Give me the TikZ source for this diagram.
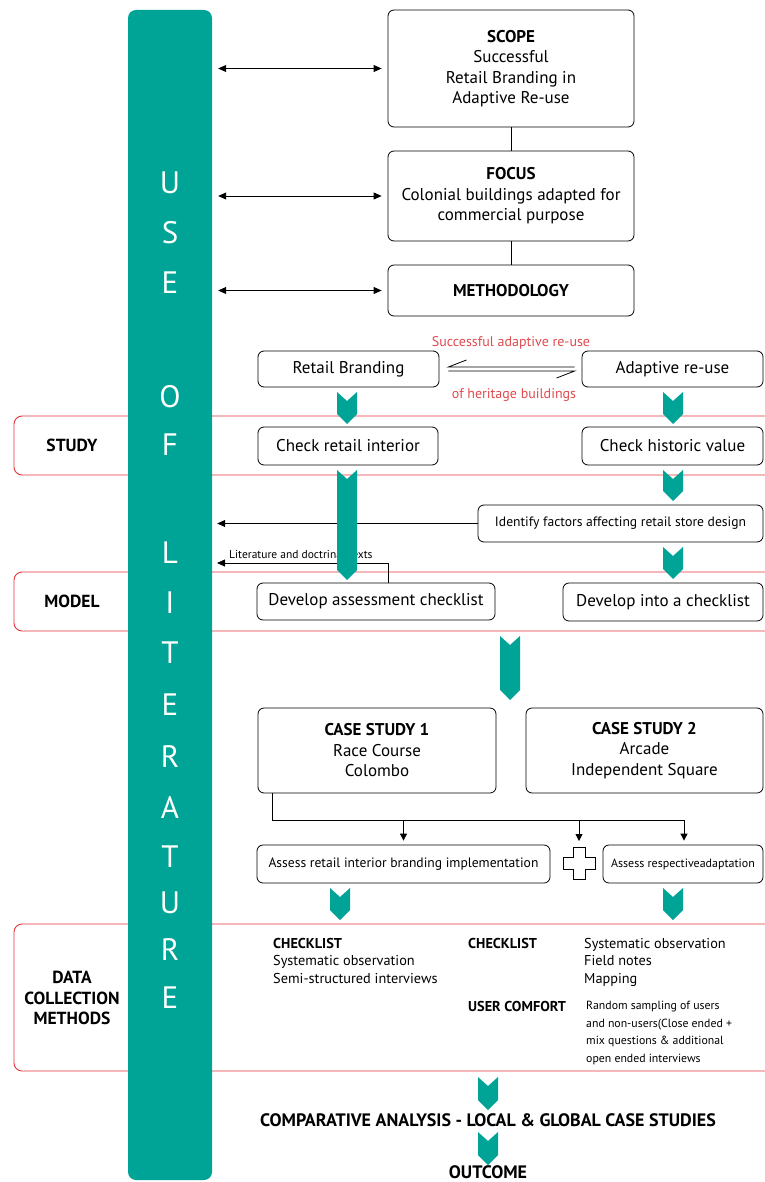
\documentclass[tikz,border=0pt]{standalone}
\usepackage{fontspec}
\setmainfont{PT Sans}
\usetikzlibrary{arrows.meta,positioning}
\definecolor{litteal}{HTML}{00A497}
\definecolor{bandred}{HTML}{E2343A}
\definecolor{notered}{HTML}{E04A4F}
% teal chevron: x, top, bottom
\newcommand{\chev}[3]{\fill[litteal] (#1-10,#2) -- (#1,#2+9) -- (#1+10,#2) -- (#1+10,#3-10) -- (#1,#3) -- (#1-10,#3-10) -- cycle;}
\begin{document}
\begin{tikzpicture}[x=1pt, y=-1pt,
	box/.style={draw, rounded corners=6pt, line width=0.8pt, align=center, inner sep=2pt,
		font=\fontsize{17}{20.5}\selectfont},
	smallbox/.style={box, font=\fontsize{13.6}{16}\selectfont},
	band/.style={draw=bandred, line width=0.9pt, rounded corners=8pt},
	bandlabel/.style={font=\bfseries\fontsize{17.5}{20.5}\selectfont, align=center},
	letter/.style={text=white, font=\fontsize{31}{31}\selectfont},
	redtext/.style={text=notered, font=\fontsize{14}{16}\selectfont},
	coltext/.style={anchor=north west, inner sep=0pt, align=left, font=\fontsize{14.3}{17.5}\selectfont},
	bigtext/.style={font=\bfseries\fontsize{18}{20}\selectfont},
	dbl/.style={{Triangle[width=7pt,length=8pt]}-{Triangle[width=7pt,length=8pt]}, line width=0.8pt},
	tolit/.style={-{Triangle[width=7pt,length=8pt]}, line width=0.8pt},
	down/.style={-{Triangle[width=7pt,length=7pt]}, line width=0.8pt},
	harp/.style={line width=0.8pt}]
	
	\useasboundingbox (0,0) rectangle (764,1182);
	
	% red bands
	\draw[band] (14,416) rectangle (790,475);
	\draw[band] (14,572) rectangle (790,631);
	\draw[band] (14,924) rectangle (790,1071);
	\node[bandlabel] (study) at (72,445) {STUDY};
	\node[bandlabel] (model) at (72,601) {MODEL};
	\node[bandlabel] (data) at (72,998) {DATA\\COLLECTION\\METHODS};
	
	% literature bar
	\node[fill=litteal, rounded corners=8pt, minimum width=84pt, minimum height=1170pt, inner sep=0pt] (bar) at (170,595) {};
	\foreach \l/\y in {U/183, S/233, E/283, O/397, F/445, L/553, I/603, T/653, E/705, R/757, A/807, T/857, U/903, R/950, E/998}
	\node[letter] (l\y) at (170,\y) {\l};
	
	% top boxes
	\node[box, minimum width=246pt, minimum height=117pt] (scope) at (511,68.5) {\textbf{SCOPE}\\Successful\\Retail Branding in\\Adaptive Re-use};
	\node[box, minimum width=246pt, minimum height=90pt] (focus) at (511,196) {\textbf{FOCUS}\\Colonial buildings adapted for\\commercial purpose};
	\node[box, minimum width=246pt, minimum height=51pt] (method) at (511,290.5) {\textbf{METHODOLOGY}};
	\draw[line width=0.8pt] (scope) -- (focus);
	\draw[line width=0.8pt] (focus) -- (method);
	\foreach \n in {scope, focus, method}
	\draw[dbl, shorten <=6pt, shorten >=6pt] (bar.east |- \n.west) -- (\n.west);
	
	% two themes
	\node[box, minimum width=181pt, minimum height=36pt] (rb) at (348.5,369) {Retail Branding};
	\node[box, minimum width=181pt, minimum height=36pt] (ar) at (672.5,369) {Adaptive re-use};
	\draw[harp] ([yshift=2pt, xshift=-7pt]ar.west) -- ([yshift=2pt, xshift=9pt]rb.east) -- ++(18,-7);
	\draw[harp] ([yshift=-2pt, xshift=9pt]rb.east) -- ([yshift=-2pt, xshift=-7pt]ar.west) -- ++(-18,7);
	\node[redtext] (sar) at (511,343) {Successful adaptive re-use};
	\node[redtext] (hb) at (514,395) {of heritage buildings};
	
	% study
	\node[box, minimum width=180pt, minimum height=38pt] (cri) at (348,446) {Check retail interior};
	\node[box, minimum width=181pt, minimum height=38pt] (chv) at (672.5,446) {Check historic value};
	\node[smallbox, minimum width=285pt, minimum height=37pt] (ifd) at (620.5,523.5) {Identify factors affecting retail store design};
	\draw[tolit, shorten >=5pt] (ifd.west) -- (ifd.west -| bar.east);
	
	% model
	\node[box, minimum width=238pt, minimum height=37pt] (dac) at (376,601.5) {Develop assessment checklist};
	\node[box, minimum width=200pt, minimum height=38pt] (dic) at (663,602) {Develop into a checklist};
	\coordinate (litend) at (217,563);
	\draw[tolit] ([xshift=12pt]dac.north) |- (litend);
	\node[anchor=south west, inner sep=0pt, font=\fontsize{11.5}{13}\selectfont] (lit) at (229,559) {Literature and doctrinal texts};
	
	% case studies
	\node[box, minimum width=238pt, minimum height=85pt] (cs1) at (377,750.5) {\textbf{CASE STUDY 1}\\Race Course\\Colombo};
	\node[box, minimum width=237pt, minimum height=85pt] (cs2) at (644.5,750.5) {\textbf{CASE STUDY 2}\\Arcade\\Independent Square};
	\node[smallbox, minimum width=293pt, minimum height=38pt] (ari) at (403.5,864) {Assess retail interior branding implementation};
	\node[smallbox, minimum width=160pt, minimum height=38pt, font=\fontsize{12}{14}\selectfont] (ara) at (683,864) {Assess respectiveadaptation};
	\coordinate (plus) at (579,863);
	\draw[line width=0.8pt] (573,847) -- (585,847) -- (585,857) -- (595,857) -- (595,869) -- (585,869) -- (585,879) -- (573,879) -- (573,869) -- (563,869) -- (563,857) -- (573,857) -- cycle;
	\coordinate (jr) at (684,820);
	\draw[line width=0.8pt] ([xshift=-105pt]cs1.south) |- (jr);
	\draw[down, shorten >=4pt] (ari.north |- jr) -- (ari.north);
	\draw[down, shorten >=6pt] (plus |- jr) -- ([yshift=16pt]plus);
	\draw[down, shorten >=4pt] (jr) -- (jr |- ara.north);
	
	% data collection
	\node[coltext] (c1) at (273,938) {\textbf{CHECKLIST}\\Systematic observation\\Semi-structured interviews};
	\node[coltext] (c2) at (468,938) {\textbf{CHECKLIST}};
	\node[coltext] (c2l) at (584,938) {Systematic observation\\Field notes\\Mapping};
	\node[coltext] (c3) at (468,1001) {\textbf{USER COMFORT}};
	\node[coltext, font=\fontsize{11.8}{17.5}\selectfont] (c3l) at (586,1001) {Random sampling of users\\and non-users(Close ended +\\mix questions \& additional\\open ended interviews};
	
	% outcome
	\node[bigtext] (comp) at (488,1120) {COMPARATIVE ANALYSIS - LOCAL \& GLOBAL CASE STUDIES};
	\node[bigtext] (out) at (488,1172) {OUTCOME};
	
	% teal arrows
	\chev{347}{392}{424}
	\chev{673}{392}{424}
	\chev{347}{470}{580}
	\chev{673}{470}{501}
	\chev{673}{547}{579}
	\chev{510}{636}{700}
	\chev{340}{888}{920}
	\chev{673}{888}{920}
	\chev{488}{1077}{1110}
	\chev{488}{1132}{1165}
\end{tikzpicture}
\end{document}
